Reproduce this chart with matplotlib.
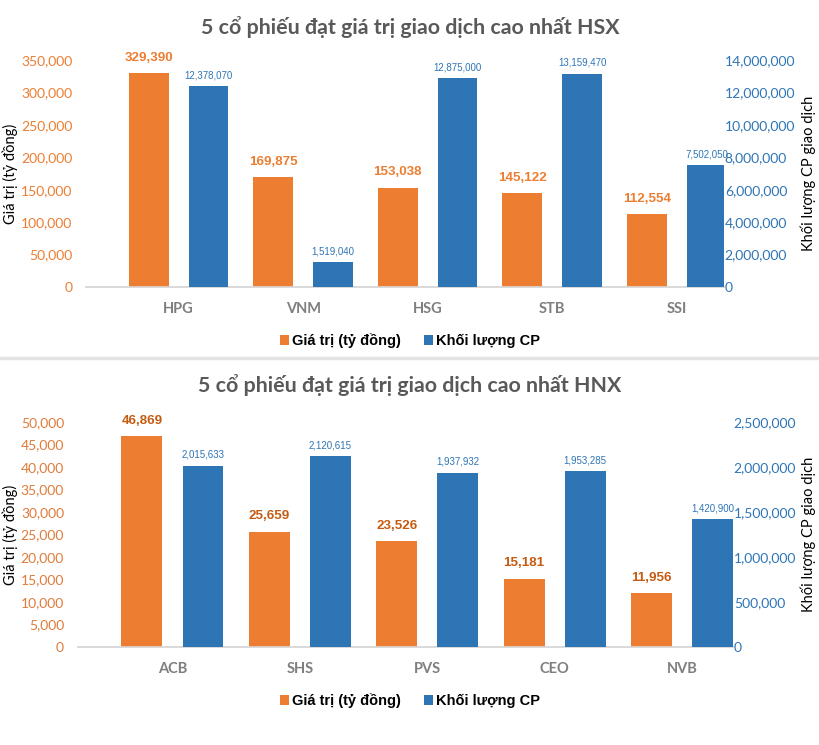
import matplotlib
matplotlib.use("Agg")
import matplotlib.pyplot as plt
from matplotlib.lines import Line2D
from matplotlib.ticker import FuncFormatter, MultipleLocator
import numpy as np

# data
hsx_codes = ["HPG", "VNM", "HSG", "STB", "SSI"]
hsx_value = [329390, 169875, 153038, 145122, 112554]
hsx_volume = [12378070, 1519040, 12875000, 13159470, 7502050]

hnx_codes = ["ACB", "SHS", "PVS", "CEO", "NVB"]
hnx_value = [46869, 25659, 23526, 15181, 11956]
hnx_volume = [2015633, 2120615, 1937932, 1953285, 1420900]

series_names = ["Giá trị (tỷ đồng)", "Khối lượng CP"]

ORANGE = "#ED7D31"
BLUE = "#2E75B6"
ARIAL = ["Liberation Sans", "DejaVu Sans"]
MAIN = ["Lato", "DejaVu Sans"]

comma = FuncFormatter(lambda v, p: f"{v:,.0f}")


def draw_panel(fig, rect, codes, values, volumes, title, title_y, legend_y,
               vmax, vstep, wmax, wstep, xlim, left_tick_color, value_color,
               left_label_x, right_label_x):
    ax = fig.add_axes(rect)
    ax2 = ax.twinx()
    x = np.arange(len(codes))
    w = 0.32
    b1 = ax.bar(x - 0.24, values, w, color=ORANGE, zorder=3)
    b2 = ax2.bar(x + 0.24, volumes, w, color=BLUE, zorder=3)

    ax.set_xlim(*xlim)
    ax.set_ylim(0, vmax)
    ax2.set_ylim(0, wmax)
    ax.yaxis.set_major_locator(MultipleLocator(vstep))
    ax2.yaxis.set_major_locator(MultipleLocator(wstep))
    ax.yaxis.set_major_formatter(comma)
    ax2.yaxis.set_major_formatter(comma)

    for a in (ax, ax2):
        for s in ("top", "left", "right"):
            a.spines[s].set_visible(False)
        a.spines["bottom"].set_color("#D9D9D9")
        a.spines["bottom"].set_linewidth(1.2)

    ax.set_xticks(x)
    ax.set_xticklabels(codes, family=MAIN, fontsize=10.5, fontweight="bold", color="#7F7F7F")
    ax.tick_params(axis="x", length=0, pad=11)
    ax.tick_params(axis="y", length=0, pad=10, labelcolor=left_tick_color)
    ax2.tick_params(axis="y", length=0, pad=0.5, labelcolor=BLUE)
    for lab in ax.get_yticklabels() + ax2.get_yticklabels():
        lab.set_family(MAIN)
        lab.set_fontsize(10)

    ax.set_ylabel("Giá trị (tỷ đồng)", family=MAIN, fontsize=10.5, color="black",
                  va="center")
    ax2.set_ylabel("Khối lượng CP giao dịch", family=MAIN, fontsize=10.5, color="black",
                   va="center")
    ax.yaxis.set_label_coords(left_label_x, 0.5)
    ax2.yaxis.set_label_coords(right_label_x, 0.5)

    for r, v in zip(b1, values):
        ax.annotate(f"{v:,}", (r.get_x() + r.get_width() / 2, v),
                    xytext=(0, 11), textcoords="offset points", ha="center", va="center",
                    family=ARIAL, fontsize=9.6, fontweight="bold", color=value_color)
    for r, v in zip(b2, volumes):
        ax2.annotate(f"{v:,}", (r.get_x() + r.get_width() / 2, v),
                     xytext=(0, 8), textcoords="offset points", ha="center", va="center",
                     family=ARIAL, fontsize=7, color=BLUE)

    fig.text(0.5, title_y, title, ha="center", va="center", family=MAIN,
             fontsize=15.4, fontweight="bold", color="#595959")
    fig.legend([b1, b2], series_names, loc="center", bbox_to_anchor=(0.5, legend_y),
               ncol=2, frameon=False, handlelength=0.6, handleheight=0.6,
               handletextpad=0.2, columnspacing=1.6,
               prop={"family": ARIAL, "size": 10.5, "weight": "bold"})
    return ax, ax2


fig = plt.figure(figsize=(8.2, 7.45), dpi=100)

draw_panel(fig, [0.105, 0.6148, 0.778, 0.3047], hsx_codes, hsx_value, hsx_volume,
           "5 cổ phiếu đạt giá trị giao dịch cao nhất HSX", 0.9638, 0.5426,
           350000, 50000, 14000000, 2000000, (-0.743, 4.38), ORANGE, ORANGE,
           -0.119, 1.132)

# separator between the two charts
fig.add_artist(Line2D([0, 1], [0.5195, 0.5195], transform=fig.transFigure,
                      color="#E3E3E3", linewidth=2.5))

draw_panel(fig, [0.095, 0.1315, 0.799, 0.302], hnx_codes, hnx_value, hnx_volume,
           "5 cổ phiếu đạt giá trị giao dịch cao nhất HNX", 0.4832, 0.0594,
           50000, 5000, 2500000, 500000, (-0.742, 4.40), "#E07B39", "#C55A11",
           -0.104, 1.114)

fig.savefig("out.png", dpi=100)
